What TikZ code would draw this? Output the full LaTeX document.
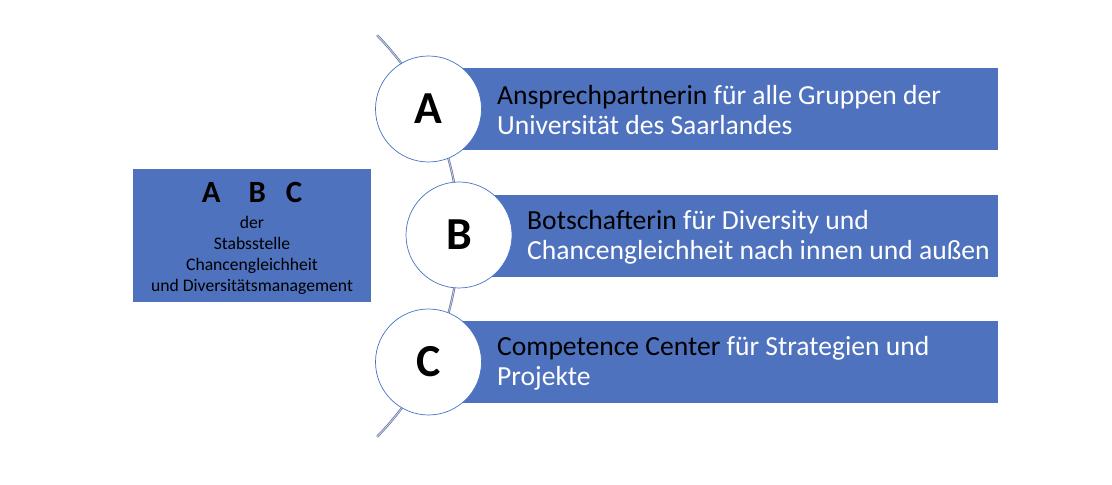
\documentclass[tikz,border=0pt]{standalone}
\usepackage{fontspec}
\setmainfont{Carlito}
\usetikzlibrary{positioning}
\definecolor{barblue}{RGB}{79,114,190}
\definecolor{ringblue}{RGB}{68,114,196}
\definecolor{archue}{RGB}{100,116,160}
\definecolor{arclight}{RGB}{200,208,228}
\begin{document}
\begin{tikzpicture}[
		x=1bp,y=1bp,
		bar/.style={
			fill=barblue,
			draw=white,
			line width=0.6bp,
			minimum height=83bp,
			inner sep=0pt,
			anchor=west
		},
		disc/.style={
			circle,
			fill=white,
			draw=ringblue,
			line width=0.7bp,
			minimum size=106bp,
			inner sep=0pt,
			font=\fontsize{46}{52}\selectfont\bfseries
		},
		bartext/.style={
			anchor=west,
			align=left,
			text=white,
			inner sep=0pt,
			font=\fontsize{27.7}{30}\selectfont
		}
		]
		\useasboundingbox (0,0) rectangle (1112,485);
		\coordinate (hub) at (172,249);
		\draw[archue,line width=0.7bp,double=arclight,double distance=0.8bp]
			([shift={(44.4:287)}]hub) arc[start angle=44.4,end angle=-44.4,radius=287];
		\node[fill=barblue,minimum width=238bp,minimum height=133bp] (abc) at (252,249.5) {};
		\node[align=center,inner sep=0pt,font=\fontsize{17.7}{21}\selectfont,yshift=-3bp] (abctext) at (abc.center)
			{{\fontsize{31}{30}\selectfont\bfseries A\hspace{28bp}B\hspace{20bp}C}\\[5bp]
			der\\Stabsstelle\\Chancengleichheit\\und Diversitätsmanagement};
		\node[bar,minimum width=569.5bp] (ba) at (428.5,376.5) {};
		\node[bar,minimum width=539bp] (bb) at (459,249.5) {};
		\node[bar,minimum width=569.5bp] (bc) at (428.5,123) {};
		\node[disc] (ca) at (428.5,376) {A};
		\node[disc] (cb) at (459,250) {B};
		\node[disc] (cc) at (428.5,123) {C};
		\node[bartext] (ta) at (497,375) {\textcolor{black}{Ansprechpartnerin} für alle Gruppen der\\Universität des Saarlandes};
		\node[bartext] (tb) at (527,248) {\textcolor{black}{Botschafterin} für Diversity und\\Chancengleichheit nach innen und außen};
		\node[bartext] (tc) at (497,122) {\textcolor{black}{Competence Center} für Strategien und\\Projekte};
		\end{tikzpicture}
\end{document}
